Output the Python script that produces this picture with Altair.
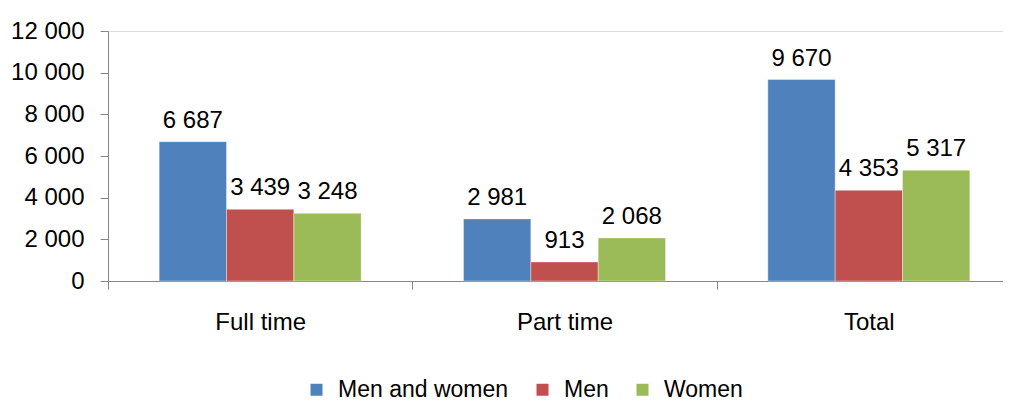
import altair as alt
import pandas as pd

categories = ["Full time", "Part time", "Total"]
series = ["Men and women", "Men", "Women"]
men_and_women = [6687, 2981, 9670]
men = [3439, 913, 4353]
women = [3248, 2068, 5317]
colors = ["#4F81BD", "#C0504D", "#9BBB59"]

rows = []
for i, c in enumerate(categories):
    for s, vals in zip(series, [men_and_women, men, women]):
        rows.append({"category": c, "series": s, "value": vals[i]})
df = pd.DataFrame(rows)

FONT2 = "Liberation Sans, Arial, sans-serif"

x = alt.X("category:N", sort=categories, title=None,
          scale=alt.Scale(range=[0, 913], paddingInner=0, paddingOuter=0),
          axis=alt.Axis(labelAngle=0, tickBand="extent", tickSize=8, labelPadding=21,
                        labelFontSize=24, labelFont=FONT2, labelColor="#000000",
                        domainColor="#868686", tickColor="#868686"))
xo = alt.XOffset("series:N", sort=series,
                 scale=alt.Scale(paddingInner=0, paddingOuter=0.76))
y = alt.Y("value:Q", title=None,
          scale=alt.Scale(domain=[0, 12000], nice=False),
          axis=alt.Axis(values=[0, 2000, 4000, 6000, 8000, 10000, 12000], format=",d",
                        grid=False, tickSize=8, labelPadding=16, labelFontSize=24,
                        labelFont=FONT2, labelColor="#000000",
                        domainColor="#868686", tickColor="#868686"))

bars = alt.Chart(df).mark_bar(stroke="#ffffff", strokeWidth=0.6, strokeOpacity=0.6).encode(
    x=x, xOffset=xo, y=y,
    color=alt.Color("series:N", sort=series,
                    scale=alt.Scale(domain=series, range=colors),
                    legend=alt.Legend(title=None, orient="none", direction="horizontal",
                                      legendX=197, legendY=347, symbolType="square",
                                      symbolSize=144, symbolStrokeWidth=0, labelFontSize=23,
                                      labelFont=FONT2, labelColor="#000000",
                                      labelLimit=400, labelOffset=10, columnPadding=22)),
)

labels = alt.Chart(df).mark_text(baseline="alphabetic", dy=-14, fontSize=24,
                                 font=FONT2, color="#000000").encode(
    x=x, xOffset=xo, y=y,
    text=alt.Text("value:Q", format=",d"),
)

chart = (bars + labels).properties(
    width=895, height=250,
    autosize=alt.AutoSizeParams(type="none"),
    padding={"left": 100, "top": 23, "right": 0, "bottom": 121},
).configure_view(stroke=None).configure(
    locale=alt.Locale(number=alt.NumberLocale(decimal=".", thousands=" ",
                                              grouping=[3], currency=["", ""]))
)

chart.save("out.html", embed_options={"renderer": "svg", "actions": False})
